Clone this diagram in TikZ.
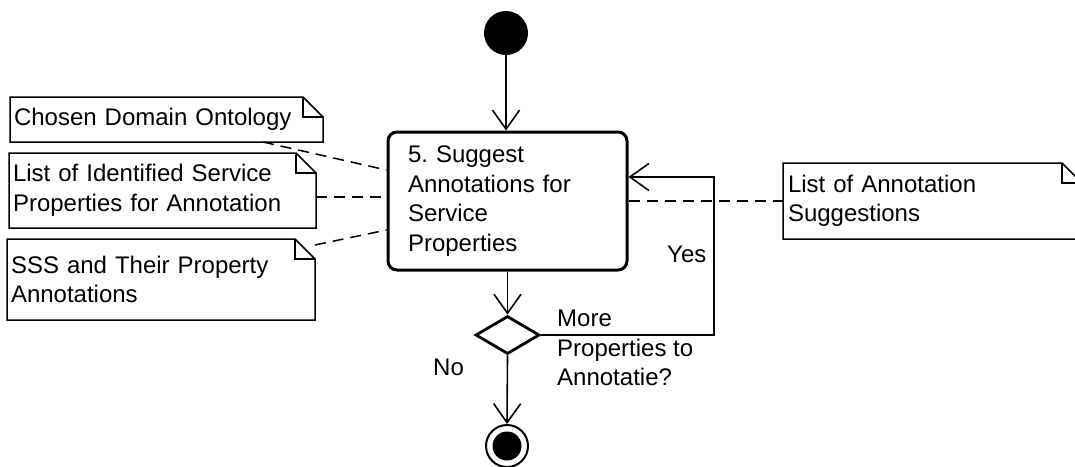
\documentclass[tikz,border=0pt]{standalone}
\usepackage{fontspec}
\setmainfont{Liberation Sans}
\usetikzlibrary{arrows.meta,shapes.geometric}
\frenchspacing

\tikzset{
  every node/.style={font=\fontsize{24}{29.5}\selectfont},
  flow/.style={line width=1.6pt,-{Straight Barb[length=19pt,width=27pt]}},
  link/.style={line width=1.5pt,dash pattern=on 11pt off 7pt},
  noteline/.style={line width=1.5pt},
  notebox/.style={rectangle,draw=none,outer sep=0pt,inner ysep=0pt,inner xsep=4pt,align=left},
  actionbox/.style={rectangle,rounded corners=9pt,draw,line width=3pt,
    minimum width=239pt,minimum height=138pt,inner xsep=20pt,text width=199pt,align=left},
  startdot/.style={circle,fill=black,minimum size=44pt,inner sep=0pt},
  enddot/.style={circle,draw,line width=2pt,minimum size=42pt,inner sep=0pt},
  decision/.style={diamond,draw,line width=2.8pt,minimum width=64pt,minimum height=38pt,inner sep=0pt},
  lbl/.style={inner sep=0pt,align=left}
}

\begin{document}
\begin{tikzpicture}[x=1pt,y=-1pt]
  \fill[white] (0,0) rectangle (1075,466);
  \useasboundingbox (0,0) rectangle (1075,466);

  % activity flow
  \node[startdot] (start) at (506,33) {};
  \node[actionbox] (act) at (507.5,201) {5. Suggest\\Annotations for\\Service\\Properties};
  \node[decision] (dec) at (507.5,335) {};
  \node[enddot] (end) at (507,446) {};
  \fill (end.center) circle (14.5);

  \draw[flow] (start.south) -- (start.south |- act.north);
  \draw[flow] (act.south) -- (dec.north);
  \draw[flow] (dec.south) -- (end.north);
  \draw[flow] (dec.east) -- ++(173,0) |- ([shift={(0,-24)}]act.east);

  % guard labels
  \node[lbl,anchor=base west] (yes) at (667,262) {Yes};
  \node[lbl,anchor=base west] (no) at (433,375) {No};
  \node[lbl,anchor=north west] (guard) at (557,310) {More\\Properties to\\Annotatie?};

  % notes (objects)
  \node[notebox,minimum width=313pt,minimum height=45pt,text width=305pt] (n1) at (166.5,119.5)
    {Chosen Domain Ontology};
  \node[notebox,minimum width=307pt,minimum height=75pt,text width=299pt] (n2) at (162.5,190.5)
    {List of Identified Service\\Properties for Annotation};
  \node[notebox,minimum width=308pt,minimum height=81pt,text width=300pt] (n3) at (161,279.5)
    {SSS and Their Property\\Annotations};
  \node[notebox,inner xsep=5pt,minimum width=299pt,minimum height=76pt,text width=289pt] (n4) at (932.5,201)
    {List of Annotation\\Suggestions};

  \foreach \n in {n1,n2,n3,n4}{
    \draw[noteline] (\n.north west) -- ([shift={(-20,0)}]\n.north east)
      -- ([shift={(0,20)}]\n.north east) -- (\n.south east) -- (\n.south west) -- cycle;
    \draw[noteline] ([shift={(-20,0)}]\n.north east) |- ([shift={(0,20)}]\n.north east);
  }

  % object links
  \draw[link] ([shift={(-60,0)}]n1.south east) -- ([shift={(0,-31)}]act.west);
  \draw[link] ([shift={(0,6.5)}]n2.east) -- ([shift={(0,-4)}]act.west);
  \draw[link] ([shift={(0,6)}]n3.north east) -- ([shift={(0,29)}]act.west);
  \draw[link] (act.east) -- (n4.west);
\end{tikzpicture}
\end{document}
